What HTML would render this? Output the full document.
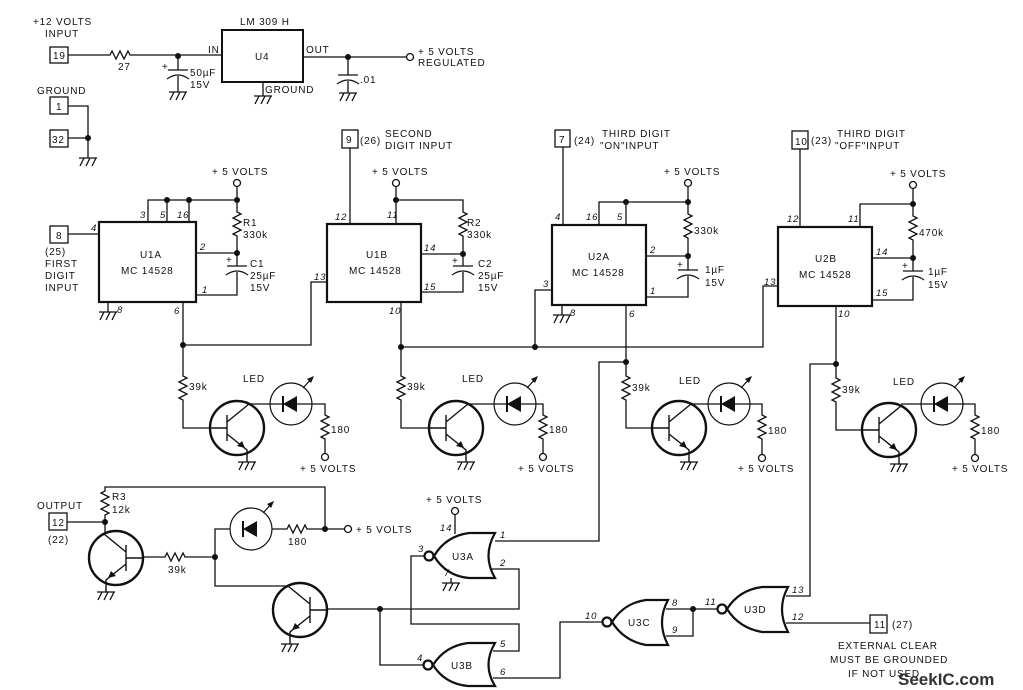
<!DOCTYPE html>
<html><head><meta charset="utf-8"><style>
html,body{margin:0;padding:0;background:#fff}
svg{display:block}
text{font-family:"Liberation Sans",sans-serif;font-size:10px;fill:#111;letter-spacing:0.8px}
.sm{font-size:9.5px;font-style:italic}
</style></head><body>
<svg width="1023" height="690" viewBox="0 0 1023 690" xmlns="http://www.w3.org/2000/svg">
<defs>
<g id="gnd" fill="none" stroke="#111" stroke-width="1.3"><path d="M-9 0H9M-8 8L-4 0M-2 8L2 0M4 8L8 0"/></g>
<g id="npnL" fill="none" stroke="#111">
<circle r="27" stroke-width="2.4"/>
<path stroke-width="1.4" d="M-27 0H-10M-10 -13V13M-10 -6L12 -24M-10 6L10 22V34"/>
<path d="M8 20L0 18L5 13Z" fill="#111" stroke="none"/>
</g>
<g id="npnR" transform="scale(-1,1)"><use href="#npnL"/></g>
<g id="led" fill="none" stroke="#111">
<circle r="21" stroke-width="1.2"/>
<path d="M-8 0L6 -8V8Z" fill="#111" stroke="none"/>
<path d="M-8 -8V8" stroke-width="2"/>
<path d="M12 -16L22 -27" stroke-width="1.2"/><path d="M23 -28L16 -25L20 -21Z" fill="#111" stroke="none"/>
</g>
</defs>
<g fill="none" stroke="#111" stroke-width="1.3">
<!-- top regulator -->
<rect x="50" y="47" width="18" height="16"/>
<path d="M68 55H110l2 -4l4 8l4 -8l4 8l4 -8l2 4H222"/>
<path d="M178 56V70M168 70H188M167 79Q178 71 189 79M178 76V92"/>
<rect x="222" y="30" width="81" height="52" stroke-width="2"/>
<path d="M303 57H406"/><circle cx="410" cy="57" r="3.5"/>
<path d="M348 57V75M338 75H358M337 84Q348 76 359 84M348 81V93"/>
<path d="M263 82V96"/>
<rect x="50" y="97" width="18" height="17"/><rect x="50" y="130" width="18" height="17"/>
<path d="M68 106H88V158M68 138H88"/>
<!-- U1A -->
<rect x="50" y="226" width="18" height="17"/>
<path d="M68 234H99"/>
<rect x="99" y="222" width="97" height="80" stroke-width="2.2"/>
<path d="M148 222V200H237M167 222V200M189 222V200M237 187V212l4 2l-8 4l8 4l-8 4l8 4l-8 4l4 2V266M227 266H247M226 275Q237 267 248 275M237 272V295H196M196 253H237"/>
<circle cx="237" cy="183" r="3.5"/>
<path d="M108 302V312M183 302V345H311V282H327"/>
<!-- U1B -->
<rect x="342" y="130" width="16" height="18"/>
<path d="M350 148V224"/>
<rect x="327" y="224" width="94" height="78" stroke-width="2.2"/>
<path d="M396 224V187M396 200H463V212l4 2l-8 4l8 4l-8 4l8 4l-8 4l4 2V266M453 266H473M452 275Q463 267 474 275M463 272V292H421M421 254H463"/>
<circle cx="396" cy="183" r="3.5"/>
<path d="M401 302V347H763V286H778M535 347V290H552"/>
<!-- U2A -->
<rect x="555" y="130" width="15" height="17"/>
<path d="M563 147V225"/>
<rect x="552" y="225" width="94" height="80" stroke-width="2.2"/>
<path d="M599 225V202H688M626 225V202M688 187V214l4 2l-8 4l8 4l-8 4l8 4l-8 4l4 2V270M678 270H698M677 279Q688 271 699 279M688 276V297H646M646 256H688"/>
<circle cx="688" cy="183" r="3.5"/>
<path d="M562 305V315M626 305V362"/>
<!-- U2B -->
<rect x="792" y="131" width="16" height="18"/>
<path d="M800 149V227"/>
<rect x="778" y="227" width="94" height="79" stroke-width="2.2"/>
<path d="M860 227V204H913M913 189V216l4 2l-8 4l8 4l-8 4l8 4l-8 4l4 2V271M903 271H923M902 280Q913 272 924 280M913 277V300H872M872 258H913"/>
<circle cx="913" cy="185" r="3.5"/>
<path d="M836 306V364"/>
<!-- stages -->
<path d="M183 345V376l4 2l-8 4l8 4l-8 4l8 4l-8 4l4 2V428H210"/>
<path d="M249 404H325V415l4 2l-8 4l8 4l-8 4l8 4l-8 4l4 2V453"/><circle cx="325" cy="457" r="3.5"/>
<path d="M401 347V376l4 2l-8 4l8 4l-8 4l8 4l-8 4l4 2V428H429"/>
<path d="M468 404H543V415l4 2l-8 4l8 4l-8 4l8 4l-8 4l4 2V453"/><circle cx="543" cy="457" r="3.5"/>
<path d="M626 362V376l4 2l-8 4l8 4l-8 4l8 4l-8 4l4 2V428H652M626 362H599V541H495"/>
<path d="M691 404H762V415l4 2l-8 4l8 4l-8 4l8 4l-8 4l4 2V454"/><circle cx="762" cy="458" r="3.5"/>
<path d="M836 364V378l4 2l-8 4l8 4l-8 4l8 4l-8 4l4 2V430H862M836 364H810V596H786"/>
<path d="M901 404H975V415l4 2l-8 4l8 4l-8 4l8 4l-8 4l4 2V454"/><circle cx="975" cy="458" r="3.5"/>
<!-- bottom left -->
<rect x="49" y="513" width="18" height="17"/>
<path d="M67 522H105V515l4 -2l-8 -4l8 -4l-8 -4l8 -4l-8 -4l4 -2V487H325V529M105 522V534"/>
<path d="M143 557H165l2 -4l4 8l4 -8l4 8l4 -8l2 4H215M215 557V529H230M272 529H287l2 -4l4 8l4 -8l4 8l4 -8l2 4H344"/>
<circle cx="348" cy="529" r="3.5"/>
<path d="M215 557V586H288M327 609H519V569H492M424 556H411V624H519V651H493M380 609V665H423"/>
<path d="M493 678H560V622H602M666 609H717M666 636H693V609M786 623H870"/>
<path d="M455 515V534M451 578V583"/><circle cx="455" cy="511" r="3.5"/>
<rect x="870" y="615" width="17" height="18"/>
<!-- gates -->
<g stroke-width="2.2">
<path d="M495 533H469Q446 536 434 556Q446 576 469 578H495Q482 556 495 533Z"/>
<path d="M495 643H468Q445 646 433 665Q445 684 468 686H495Q482 665 495 643Z"/>
<path d="M668 600H646Q624 603 612 622Q624 641 646 645H668Q656 622 668 600Z"/>
<path d="M788 587H762Q739 590 727 609Q739 628 762 632H788Q776 609 788 587Z"/>
<circle cx="429" cy="556" r="4.5"/><circle cx="428" cy="665" r="4.5"/><circle cx="607" cy="622" r="4.5"/><circle cx="722" cy="609" r="4.5"/>
</g>
</g>
<!-- symbols -->
<use href="#gnd" x="178" y="92"/><use href="#gnd" x="348" y="93"/><use href="#gnd" x="263" y="96"/><use href="#gnd" x="88" y="158"/>
<use href="#gnd" x="108" y="312"/><use href="#gnd" x="562" y="315"/>
<use href="#npnL" transform="translate(237,428)"/><use href="#gnd" x="247" y="462"/><use href="#led" transform="translate(291,404)"/>
<use href="#npnL" transform="translate(456,428)"/><use href="#gnd" x="466" y="462"/><use href="#led" transform="translate(515,404)"/>
<use href="#npnL" transform="translate(679,428)"/><use href="#gnd" x="689" y="462"/><use href="#led" transform="translate(729,404)"/>
<use href="#npnL" transform="translate(889,430)"/><use href="#gnd" x="899" y="464"/><use href="#led" transform="translate(942,404)"/>
<use href="#npnR" transform="translate(116,558)"/><use href="#gnd" x="106" y="592"/>
<use href="#npnR" transform="translate(300,610)"/><use href="#gnd" x="290" y="644"/>
<use href="#led" transform="translate(251,529)"/>
<use href="#gnd" x="451" y="583"/>
<!-- dots -->
<g fill="#111">
<circle cx="178" cy="56" r="3"/><circle cx="348" cy="57" r="3"/><circle cx="88" cy="138" r="3"/>
<circle cx="167" cy="200" r="3"/><circle cx="189" cy="200" r="3"/><circle cx="237" cy="200" r="3"/><circle cx="237" cy="253" r="3"/>
<circle cx="396" cy="200" r="3"/><circle cx="463" cy="254" r="3"/>
<circle cx="626" cy="202" r="3"/><circle cx="688" cy="202" r="3"/><circle cx="688" cy="256" r="3"/>
<circle cx="913" cy="204" r="3"/><circle cx="913" cy="258" r="3"/>
<circle cx="183" cy="345" r="3"/><circle cx="401" cy="347" r="3"/><circle cx="535" cy="347" r="3"/><circle cx="626" cy="362" r="3"/><circle cx="836" cy="364" r="3"/>
<circle cx="105" cy="522" r="3"/><circle cx="215" cy="557" r="3"/><circle cx="325" cy="529" r="3"/><circle cx="380" cy="609" r="3"/><circle cx="693" cy="609" r="3"/>
</g>
<!-- text -->
<text x="33" y="25">+12 VOLTS</text><text x="45" y="37">INPUT</text><text x="53" y="59">19</text>
<text x="118" y="70">27</text><text x="162" y="70">+</text><text x="190" y="76">50µF</text><text x="190" y="88">15V</text>
<text x="240" y="25">LM 309 H</text><text x="208" y="53">IN</text><text x="255" y="60">U4</text><text x="306" y="53">OUT</text>
<text x="265" y="93">GROUND</text><text x="418" y="55">+ 5 VOLTS</text><text x="418" y="66">REGULATED</text><text x="360" y="83">.01</text>
<text x="37" y="94">GROUND</text><text x="56" y="110">1</text><text x="52" y="143">32</text>
<text x="56" y="239">8</text><text x="45" y="255">(25)</text><text x="45" y="267">FIRST</text><text x="45" y="279">DIGIT</text><text x="45" y="291">INPUT</text>
<text class="sm" x="91" y="231">4</text><text class="sm" x="140" y="218">3</text><text class="sm" x="160" y="218">5</text><text class="sm" x="177" y="218">16</text>
<text x="212" y="175">+ 5 VOLTS</text><text x="243" y="226">R1</text><text x="243" y="238">330k</text>
<text class="sm" x="200" y="250">2</text><text class="sm" x="202" y="293">1</text><text x="226" y="263">+</text>
<text x="250" y="267">C1</text><text x="250" y="279">25µF</text><text x="250" y="291">15V</text>
<text x="140" y="258">U1A</text><text x="121" y="274">MC 14528</text><text class="sm" x="117" y="313">8</text><text class="sm" x="174" y="314">6</text>
<text x="346" y="143">9</text><text x="360" y="144">(26)</text><text x="385" y="137">SECOND</text><text x="385" y="149">DIGIT INPUT</text>
<text x="372" y="175">+ 5 VOLTS</text><text class="sm" x="335" y="220">12</text><text class="sm" x="387" y="218">11</text>
<text x="467" y="226">R2</text><text x="467" y="238">330k</text><text class="sm" x="424" y="251">14</text><text class="sm" x="424" y="290">15</text>
<text x="452" y="264">+</text><text x="478" y="267">C2</text><text x="478" y="279">25µF</text><text x="478" y="291">15V</text>
<text x="366" y="258">U1B</text><text x="349" y="274">MC 14528</text><text class="sm" x="314" y="280">13</text><text class="sm" x="389" y="314">10</text>
<text x="559" y="143">7</text><text x="574" y="144">(24)</text><text x="602" y="137">THIRD DIGIT</text><text x="600" y="149">"ON"INPUT</text>
<text x="664" y="175">+ 5 VOLTS</text><text class="sm" x="555" y="220">4</text><text class="sm" x="586" y="220">16</text><text class="sm" x="617" y="220">5</text>
<text x="694" y="234">330k</text><text class="sm" x="650" y="253">2</text><text class="sm" x="650" y="294">1</text><text x="677" y="268">+</text>
<text x="705" y="273">1µF</text><text x="705" y="286">15V</text><text x="588" y="260">U2A</text><text x="572" y="276">MC 14528</text>
<text class="sm" x="543" y="287">3</text><text class="sm" x="570" y="316">8</text><text class="sm" x="629" y="317">6</text>
<text x="795" y="145">10</text><text x="811" y="144">(23)</text><text x="837" y="137">THIRD DIGIT</text><text x="835" y="149">"OFF"INPUT</text>
<text x="890" y="177">+ 5 VOLTS</text><text class="sm" x="787" y="222">12</text><text class="sm" x="848" y="222">11</text>
<text x="919" y="236">470k</text><text class="sm" x="876" y="255">14</text><text class="sm" x="876" y="296">15</text><text x="902" y="269">+</text>
<text x="928" y="275">1µF</text><text x="928" y="288">15V</text><text x="815" y="262">U2B</text><text x="799" y="278">MC 14528</text>
<text class="sm" x="764" y="285">13</text><text class="sm" x="838" y="317">10</text>
<text x="189" y="390">39k</text><text x="243" y="382">LED</text><text x="331" y="433">180</text><text x="300" y="472">+ 5 VOLTS</text>
<text x="407" y="390">39k</text><text x="462" y="382">LED</text><text x="549" y="433">180</text><text x="518" y="472">+ 5 VOLTS</text>
<text x="632" y="391">39k</text><text x="679" y="384">LED</text><text x="768" y="434">180</text><text x="738" y="472">+ 5 VOLTS</text>
<text x="842" y="393">39k</text><text x="893" y="385">LED</text><text x="981" y="434">180</text><text x="952" y="472">+ 5 VOLTS</text>
<text x="37" y="509">OUTPUT</text><text x="52" y="526">12</text><text x="48" y="543">(22)</text>
<text x="112" y="500">R3</text><text x="112" y="513">12k</text><text x="168" y="573">39k</text><text x="288" y="545">180</text><text x="356" y="533">+ 5 VOLTS</text>
<text x="426" y="503">+ 5 VOLTS</text><text class="sm" x="440" y="531">14</text><text class="sm" x="418" y="552">3</text><text class="sm" x="444" y="576">7</text>
<text x="452" y="560">U3A</text><text class="sm" x="500" y="538">1</text><text class="sm" x="500" y="566">2</text>
<text x="451" y="669">U3B</text><text class="sm" x="417" y="661">4</text><text class="sm" x="500" y="647">5</text><text class="sm" x="500" y="675">6</text>
<text x="628" y="626">U3C</text><text class="sm" x="585" y="619">10</text><text class="sm" x="672" y="606">8</text><text class="sm" x="672" y="633">9</text>
<text x="744" y="613">U3D</text><text class="sm" x="705" y="605">11</text><text class="sm" x="792" y="593">13</text><text class="sm" x="792" y="620">12</text>
<text x="874" y="628">11</text><text x="892" y="628">(27)</text>
<text x="838" y="649">EXTERNAL CLEAR</text><text x="830" y="663">MUST BE GROUNDED</text><text x="848" y="677">IF NOT USED</text>
<text x="898" y="685" style="font-size:17px;font-weight:bold;fill:#333;letter-spacing:0">SeekIC.com</text>
</svg>
</body></html>
